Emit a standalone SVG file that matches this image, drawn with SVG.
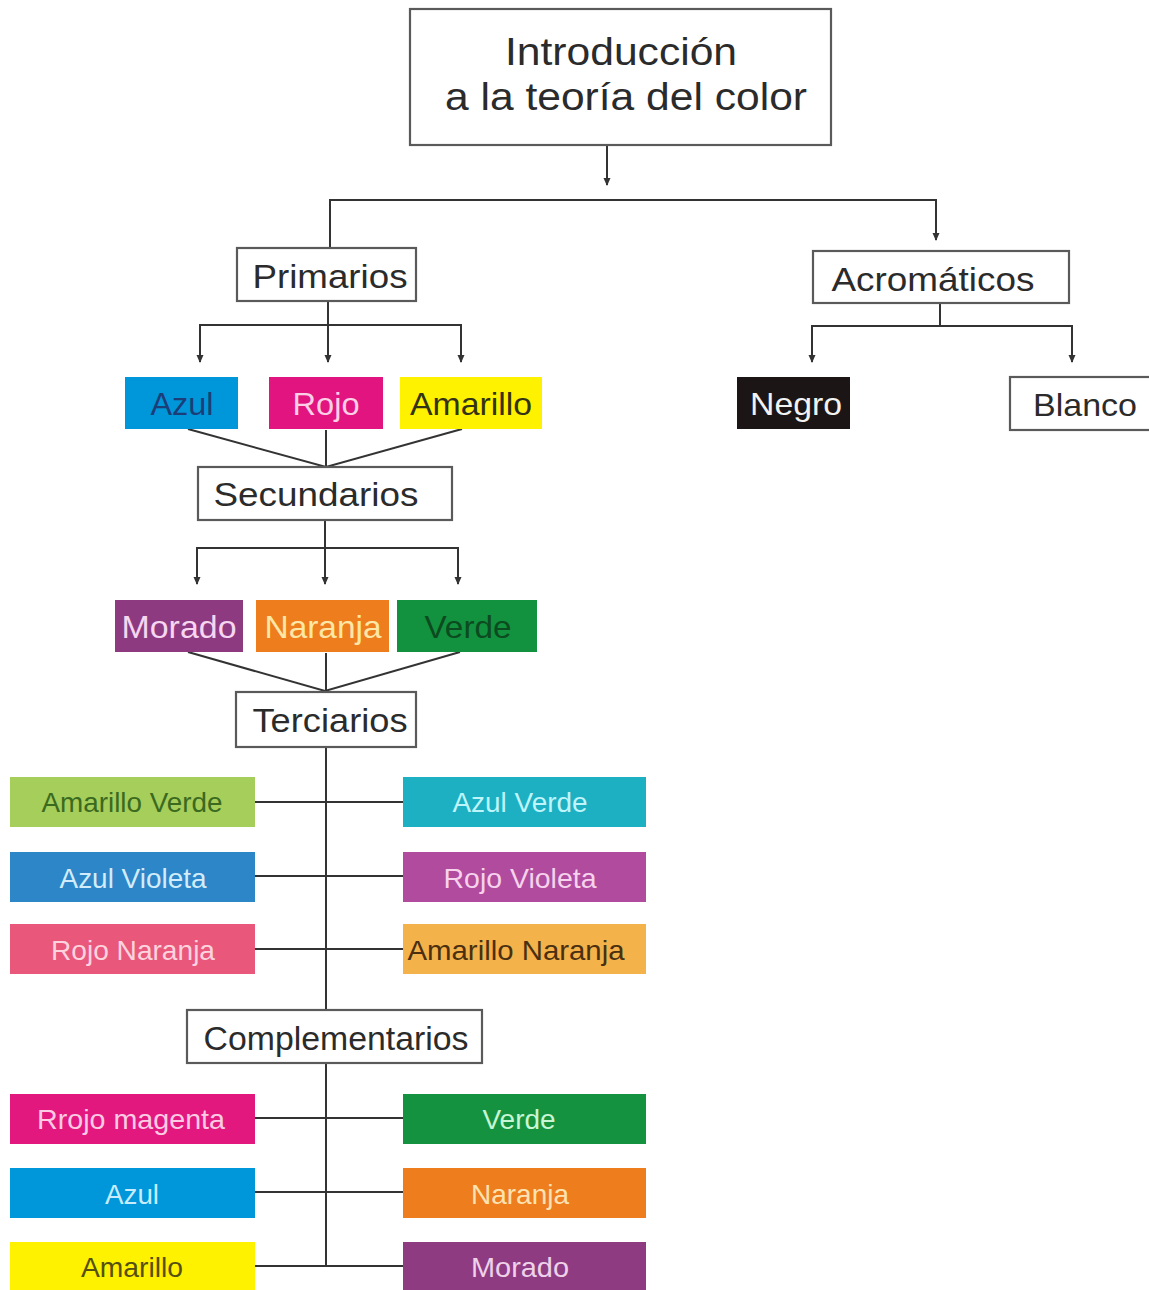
<svg xmlns="http://www.w3.org/2000/svg" width="1149" height="1290" viewBox="0 0 1149 1290">
<style>
text{font-family:"Liberation Sans",Arial,sans-serif;text-anchor:middle}
.box{fill:#fff;stroke:#5a5a5a;stroke-width:2.2}
.t{fill:#2b2b2b}
.big{font-size:38px}
.h{font-size:33px}
.m{font-size:32px}
.s{font-size:28px}
.ln{stroke:#333;stroke-width:2;fill:none}
</style>
<defs>
<marker id="ah" viewBox="0 0 8 8" refX="7" refY="4" markerWidth="8" markerHeight="8" markerUnits="userSpaceOnUse" orient="auto">
<path d="M0,0.5 L8,4 L0,7.5 Z" fill="#333"/>
</marker>
</defs>
<rect width="1149" height="1290" fill="#fff"/>
<g id="connectors">
<line class="ln" x1="607" y1="145" x2="607" y2="185" marker-end="url(#ah)"/>
<polyline class="ln" points="330,247 330,200 936,200 936,240" marker-end="url(#ah)"/>
<line class="ln" x1="328" y1="301" x2="328" y2="362" marker-end="url(#ah)"/>
<polyline class="ln" points="200,362 200,325 461,325 461,362" marker-end="url(#ah)"/>
<line class="ln" x1="200" y1="340" x2="200" y2="362" marker-end="url(#ah)"/>
<line class="ln" x1="940" y1="303" x2="940" y2="326"/>
<polyline class="ln" points="812,362 812,326 1072,326 1072,362" marker-end="url(#ah)"/>
<line class="ln" x1="812" y1="340" x2="812" y2="362" marker-end="url(#ah)"/>
<polyline class="ln" points="188,429 326,467 462,429"/>
<line class="ln" x1="326" y1="430" x2="326" y2="467"/>
<line class="ln" x1="325" y1="520" x2="325" y2="584" marker-end="url(#ah)"/>
<polyline class="ln" points="197,584 197,548 458,548 458,584" marker-end="url(#ah)"/>
<line class="ln" x1="197" y1="560" x2="197" y2="584" marker-end="url(#ah)"/>
<polyline class="ln" points="188,652 325,691 460,652"/>
<line class="ln" x1="326" y1="653" x2="326" y2="691"/>
<line class="ln" x1="326" y1="747" x2="326" y2="1010"/>
<line class="ln" x1="326" y1="1063" x2="326" y2="1266"/>
<line class="ln" x1="255" y1="802" x2="403" y2="802"/>
<line class="ln" x1="255" y1="876" x2="403" y2="876"/>
<line class="ln" x1="255" y1="949" x2="403" y2="949"/>
<line class="ln" x1="255" y1="1118" x2="403" y2="1118"/>
<line class="ln" x1="255" y1="1192" x2="403" y2="1192"/>
<line class="ln" x1="255" y1="1266" x2="403" y2="1266"/>
</g>
<g id="intro"><rect class="box" x="410" y="9" width="421" height="136"/>
<text class="t big" x="621" y="65" textLength="232" lengthAdjust="spacingAndGlyphs">Introducción</text>
<text class="t big" x="626" y="110" textLength="362" lengthAdjust="spacingAndGlyphs">a la teoría del color</text></g>
<g id="primarios"><rect class="box" x="237" y="248" width="179" height="53"/>
<text class="t h" x="330" y="288" textLength="155" lengthAdjust="spacingAndGlyphs">Primarios</text></g>
<g id="acromaticos"><rect class="box" x="813" y="251" width="256" height="52"/>
<text class="t h" x="933" y="291" textLength="203" lengthAdjust="spacingAndGlyphs">Acromáticos</text></g>
<g id="azul"><rect x="125" y="377" width="113" height="52" fill="#0096DA"/>
<text class="m" x="182" y="415" fill="#1b3d78" textLength="63" lengthAdjust="spacingAndGlyphs">Azul</text></g>
<g id="rojo"><rect x="269" y="377" width="114" height="52" fill="#E2147F"/>
<text class="m" x="326" y="415" fill="#fbd0e6" textLength="67" lengthAdjust="spacingAndGlyphs">Rojo</text></g>
<g id="amarillo"><rect x="400" y="377" width="142" height="52" fill="#FFF200"/>
<text class="m" x="471" y="415" fill="#333316" textLength="122" lengthAdjust="spacingAndGlyphs">Amarillo</text></g>
<g id="negro"><rect x="737" y="377" width="113" height="52" fill="#1b1515"/>
<text class="m" x="796" y="415" fill="#f2f2f2" textLength="92" lengthAdjust="spacingAndGlyphs">Negro</text></g>
<g id="blanco"><rect class="box" x="1010" y="377" width="145" height="53"/>
<text class="t m" x="1085" y="416" textLength="104" lengthAdjust="spacingAndGlyphs">Blanco</text></g>
<g id="secundarios"><rect class="box" x="198" y="467" width="254" height="53"/>
<text class="t h" x="316" y="506" textLength="205" lengthAdjust="spacingAndGlyphs">Secundarios</text></g>
<g id="morado"><rect x="115" y="600" width="128" height="52" fill="#8E3A80"/>
<text class="m" x="179" y="638" fill="#f6d6f0" textLength="115" lengthAdjust="spacingAndGlyphs">Morado</text></g>
<g id="naranja"><rect x="256" y="600" width="133" height="52" fill="#EE7D1E"/>
<text class="m" x="323" y="638" fill="#fde7a6" textLength="117" lengthAdjust="spacingAndGlyphs">Naranja</text></g>
<g id="verde"><rect x="397" y="600" width="140" height="52" fill="#12923E"/>
<text class="m" x="468" y="638" fill="#0c4a1f" textLength="87" lengthAdjust="spacingAndGlyphs">Verde</text></g>
<g id="terciarios"><rect class="box" x="236" y="692" width="180" height="55"/>
<text class="t h" x="330" y="732" textLength="155" lengthAdjust="spacingAndGlyphs">Terciarios</text></g>
<g id="amarillo-verde"><rect x="10" y="777" width="245" height="50" fill="#A6CE5B"/>
<text class="s" x="132" y="812" fill="#3b6a1f" textLength="181" lengthAdjust="spacingAndGlyphs">Amarillo Verde</text></g>
<g id="azul-verde"><rect x="403" y="777" width="243" height="50" fill="#1CB0C2"/>
<text class="s" x="520" y="812" fill="#bff4fb" textLength="135" lengthAdjust="spacingAndGlyphs">Azul Verde</text></g>
<g id="azul-violeta"><rect x="10" y="852" width="245" height="50" fill="#2C86C7"/>
<text class="s" x="133" y="888" fill="#d2ecfb" textLength="147" lengthAdjust="spacingAndGlyphs">Azul Violeta</text></g>
<g id="rojo-violeta"><rect x="403" y="852" width="243" height="50" fill="#B04B9E"/>
<text class="s" x="520" y="888" fill="#f6d2ec" textLength="153" lengthAdjust="spacingAndGlyphs">Rojo Violeta</text></g>
<g id="rojo-naranja"><rect x="10" y="924" width="245" height="50" fill="#E9587A"/>
<text class="s" x="133" y="960" fill="#fcd3de" textLength="164" lengthAdjust="spacingAndGlyphs">Rojo Naranja</text></g>
<g id="amarillo-naranja"><rect x="403" y="924" width="243" height="50" fill="#F4B24B"/>
<text class="s" x="516" y="960" fill="#4a3010" textLength="217" lengthAdjust="spacingAndGlyphs">Amarillo Naranja</text></g>
<g id="complementarios"><rect class="box" x="187" y="1010" width="295" height="53"/>
<text class="t h" x="336" y="1050" textLength="265" lengthAdjust="spacingAndGlyphs">Complementarios</text></g>
<g id="rrojo-magenta"><rect x="10" y="1094" width="245" height="50" fill="#E3187F"/>
<text class="s" x="131" y="1129" fill="#fbcbe3" textLength="188" lengthAdjust="spacingAndGlyphs">Rrojo magenta</text></g>
<g id="verde-c"><rect x="403" y="1094" width="243" height="50" fill="#15923F"/>
<text class="s" x="519" y="1129" fill="#c8f5d3" textLength="73" lengthAdjust="spacingAndGlyphs">Verde</text></g>
<g id="azul-c"><rect x="10" y="1168" width="245" height="50" fill="#0096DA"/>
<text class="s" x="132" y="1204" fill="#c8ecfb" textLength="54" lengthAdjust="spacingAndGlyphs">Azul</text></g>
<g id="naranja-c"><rect x="403" y="1168" width="243" height="50" fill="#EE7D1D"/>
<text class="s" x="520" y="1204" fill="#fde3b2" textLength="98" lengthAdjust="spacingAndGlyphs">Naranja</text></g>
<g id="amarillo-c"><rect x="10" y="1242" width="245" height="48" fill="#FFF200"/>
<text class="s" x="132" y="1277" fill="#555012" textLength="102" lengthAdjust="spacingAndGlyphs">Amarillo</text></g>
<g id="morado-c"><rect x="403" y="1242" width="243" height="48" fill="#8F3B82"/>
<text class="s" x="520" y="1277" fill="#eed2ea" textLength="98" lengthAdjust="spacingAndGlyphs">Morado</text></g>
</svg>
